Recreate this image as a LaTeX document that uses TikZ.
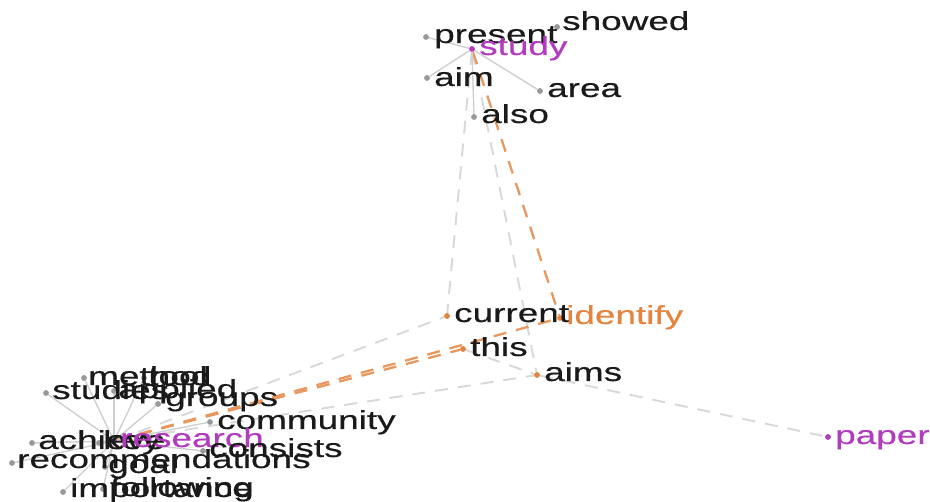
\documentclass[tikz,border=0pt]{standalone}
\usepackage{fontspec}
\newfontfamily\lblfont[FakeStretch=1.42,FakeBold=0.4]{Liberation Sans}
\definecolor{txt}{HTML}{1A1A1A}
\definecolor{purp}{HTML}{B23CBE}
\definecolor{orng}{HTML}{E4843E}
\definecolor{odash}{HTML}{E8985E}
\definecolor{dotgray}{HTML}{999999}
\definecolor{edgegray}{HTML}{CFCFCF}
\definecolor{dashgray}{HTML}{D8D8D8}
\begin{document}
\begin{tikzpicture}[x=1pt,y=-1pt,
  dotg/.style={circle, fill=dotgray, inner sep=0pt, minimum size=5.5pt},
  doto/.style={circle, fill=orng, inner sep=0pt, minimum size=5.5pt},
  dotp/.style={circle, fill=purp, inner sep=0pt, minimum size=5.5pt},
  lbl/.style={anchor=base west, inner sep=0pt, font=\lblfont\fontsize{26}{26}\selectfont, text=txt},
  lblp/.style={lbl, text=purp},
  lblo/.style={lbl, text=orng},
  solidedge/.style={draw=edgegray, line width=1.4pt},
  gdash/.style={draw=dashgray, line width=1.9pt, dash pattern=on 13pt off 10pt},
  odashed/.style={draw=odash, line width=2.3pt, dash pattern=on 13pt off 10pt}]
\useasboundingbox (0,0) rectangle (930,502);
% dots
\node[dotg] (present) at (426,37) {};
\node[dotg] (showed) at (557,27) {};
\node[dotp] (study) at (472,49) {};
\node[dotg] (aim) at (427,78) {};
\node[dotg] (area) at (540,91) {};
\node[dotg] (also) at (474,117) {};
\node[doto] (current) at (447,316) {};
\node[doto] (identify) at (560,318) {};
\node[doto] (this) at (463,349) {};
\node[doto] (aims) at (537,375) {};
\node[dotp] (paper) at (828,437) {};
\node[dotg] (studies) at (46,393) {};
\node[dotg] (method) at (84,378) {};
\node[dotg] (tool) at (144,378) {};
\node[dotg] (applied) at (114,391) {};
\node[dotg] (groups) at (158,404) {};
\node[dotg] (community) at (210,422) {};
\node[dotg] (achieve) at (32,443) {};
\node[dotg] (key) at (99,443) {};
\node[dotp] (research) at (114,441) {};
\node[dotg] (consists) at (203,451) {};
\node[dotg] (recommendations) at (12,463) {};
\node[dotg] (goal) at (105,467) {};
\node[dotg] (importance) at (63,492) {};
\node[dotg] (following) at (103,489) {};
% dashed edges
\path[gdash] (study) -- (current);
\path[gdash] (study) -- (aims);
\path[gdash] (research) -- (current);
\path[gdash] (research) -- (aims);
\path[gdash] (this) -- (aims);
\path[gdash] (aims) -- (paper);
\path[odashed] (study) -- (identify);
\path[odashed] (research) -- (identify);
\path[odashed] (research) -- (this);
% solid edges
\foreach \t in {present,aim,area,also}
  \path[solidedge] (study) -- (\t);
\foreach \t in {studies,method,tool,applied,groups,community,achieve,key,consists,recommendations,goal,importance,following}
  \path[solidedge] (research) -- (\t);
% redraw dots on top
\foreach \n/\s in {present/dotg,showed/dotg,study/dotp,aim/dotg,area/dotg,also/dotg,current/doto,identify/doto,this/doto,aims/doto,paper/dotp,studies/dotg,method/dotg,tool/dotg,applied/dotg,groups/dotg,community/dotg,achieve/dotg,key/dotg,research/dotp,consists/dotg,recommendations/dotg,goal/dotg,importance/dotg,following/dotg}
  \node[\s] at (\n) {};
% labels
\node[lbl] (presentT) at (434,43) {present};
\node[lbl] (showedT) at (562,30) {showed};
\node[lblp] (studyT) at (479,55) {study};
\node[lbl] (aimT) at (434,86) {aim};
\node[lbl] (areaT) at (547,97) {area};
\node[lbl] (alsoT) at (481,123) {also};
\node[lbl] (currentT) at (454,322) {current};
\node[lblo] (identifyT) at (566,324) {identify};
\node[lbl] (thisT) at (470,356) {this};
\node[lbl] (aimsT) at (544,381) {aims};
\node[lblp] (paperT) at (835,444) {paper};
\node[lbl] (studiesT) at (52,399) {studies};
\node[lbl] (methodT) at (88,385) {method};
\node[lbl] (toolT) at (148,385) {tool};
\node[lbl] (appliedT) at (118,398) {applied};
\node[lbl] (groupsT) at (165,406) {groups};
\node[lbl] (communityT) at (217,429) {community};
\node[lbl] (achieveT) at (38,449) {achieve};
\node[lbl] (keyT) at (103,449) {key};
\node[lblp] (researchT) at (120,447) {research};
\node[lbl] (consistsT) at (209,457) {consists};
\node[lbl] (recommendationsT) at (17,468) {recommendations};
\node[lbl] (goalT) at (108,473) {goal};
\node[lbl] (importanceT) at (70,497) {importance};
\node[lbl] (followingT) at (110,496) {following};
\end{tikzpicture}
\end{document}
